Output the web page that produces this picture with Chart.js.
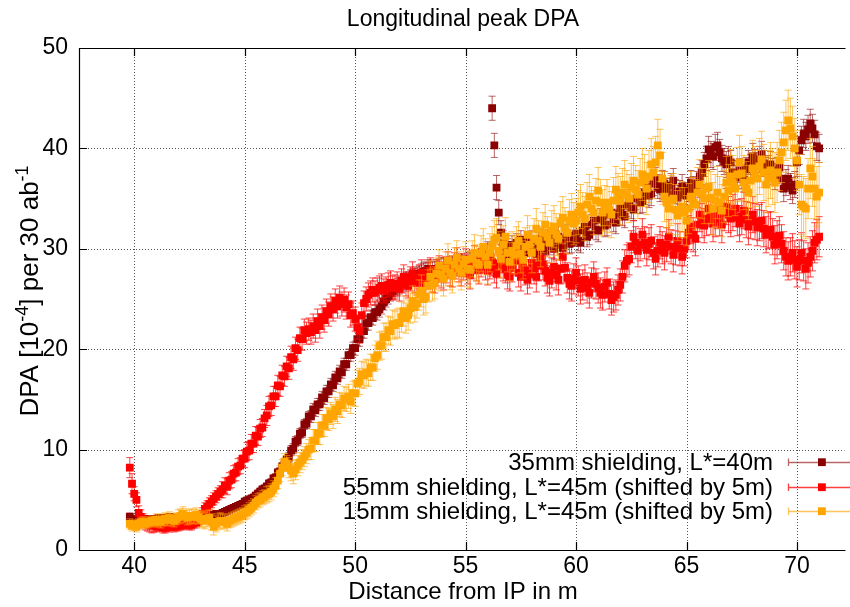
<!DOCTYPE html>
<html lang="en">
<head>
  <meta charset="UTF-8" />
  <title>Longitudinal peak DPA</title>
  <script src="https://cdn.jsdelivr.net/npm/chart.js@4"></script>
  <style>
    html, body { margin: 0; padding: 0; background: #fff; }
  </style>
</head>
<body>
  <canvas id="dpaChart" width="850" height="607"></canvas>

  <script>
    // distance from IP in m (shared by all three series)
    const distance = [
      39.8, 39.9,
      40.0, 40.1, 40.2, 40.3, 40.4, 40.5, 40.6, 40.7, 40.8, 40.9,
      41.0, 41.1, 41.2, 41.3, 41.4, 41.5, 41.6, 41.7, 41.8, 41.9,
      42.0, 42.1, 42.2, 42.3, 42.4, 42.5, 42.6, 42.7, 42.8, 42.9,
      43.0, 43.1, 43.2, 43.3, 43.4, 43.5, 43.6, 43.7, 43.8, 43.9,
      44.0, 44.1, 44.2, 44.3, 44.4, 44.5, 44.6, 44.7, 44.8, 44.9,
      45.0, 45.1, 45.2, 45.3, 45.4, 45.5, 45.6, 45.7, 45.8, 45.9,
      46.0, 46.1, 46.2, 46.3, 46.4, 46.5, 46.6, 46.7, 46.8, 46.9,
      47.0, 47.1, 47.2, 47.3, 47.4, 47.5, 47.6, 47.7, 47.8, 47.9,
      48.0, 48.1, 48.2, 48.3, 48.4, 48.5, 48.6, 48.7, 48.8, 48.9,
      49.0, 49.1, 49.2, 49.3, 49.4, 49.5, 49.6, 49.7, 49.8, 49.9,
      50.0, 50.1, 50.2, 50.3, 50.4, 50.5, 50.6, 50.7, 50.8, 50.9,
      51.0, 51.1, 51.2, 51.3, 51.4, 51.5, 51.6, 51.7, 51.8, 51.9,
      52.0, 52.1, 52.2, 52.3, 52.4, 52.5, 52.6, 52.7, 52.8, 52.9,
      53.0, 53.1, 53.2, 53.3, 53.4, 53.5, 53.6, 53.7, 53.8, 53.9,
      54.0, 54.1, 54.2, 54.3, 54.4, 54.5, 54.6, 54.7, 54.8, 54.9,
      55.0, 55.1, 55.2, 55.3, 55.4, 55.5, 55.6, 55.7, 55.8, 55.9,
      56.0, 56.1, 56.2, 56.3, 56.4, 56.5, 56.6, 56.7, 56.8, 56.9,
      57.0, 57.1, 57.2, 57.3, 57.4, 57.5, 57.6, 57.7, 57.8, 57.9,
      58.0, 58.1, 58.2, 58.3, 58.4, 58.5, 58.6, 58.7, 58.8, 58.9,
      59.0, 59.1, 59.2, 59.3, 59.4, 59.5, 59.6, 59.7, 59.8, 59.9,
      60.0, 60.1, 60.2, 60.3, 60.4, 60.5, 60.6, 60.7, 60.8, 60.9,
      61.0, 61.1, 61.2, 61.3, 61.4, 61.5, 61.6, 61.7, 61.8, 61.9,
      62.0, 62.1, 62.2, 62.3, 62.4, 62.5, 62.6, 62.7, 62.8, 62.9,
      63.0, 63.1, 63.2, 63.3, 63.4, 63.5, 63.6, 63.7, 63.8, 63.9,
      64.0, 64.1, 64.2, 64.3, 64.4, 64.5, 64.6, 64.7, 64.8, 64.9,
      65.0, 65.1, 65.2, 65.3, 65.4, 65.5, 65.6, 65.7, 65.8, 65.9,
      66.0, 66.1, 66.2, 66.3, 66.4, 66.5, 66.6, 66.7, 66.8, 66.9,
      67.0, 67.1, 67.2, 67.3, 67.4, 67.5, 67.6, 67.7, 67.8, 67.9,
      68.0, 68.1, 68.2, 68.3, 68.4, 68.5, 68.6, 68.7, 68.8, 68.9,
      69.0, 69.1, 69.2, 69.3, 69.4, 69.5, 69.6, 69.7, 69.8, 69.9,
      70.0, 70.1, 70.2, 70.3, 70.4, 70.5, 70.6, 70.7, 70.8, 70.9,
      71.0
    ];

    // 35mm shielding, L*=40m
    const dpa35 = [
      3.3, 3.0,
      2.9, 3.1, 2.8, 3.0, 2.9, 3.1, 3.0, 2.9, 3.1, 3.0,
      3.0, 3.2, 3.1, 3.0, 3.2, 3.1, 3.3, 3.1, 3.2, 3.1,
      3.2, 3.3, 3.1, 3.3, 3.2, 3.4, 3.2, 3.3, 3.4, 3.3,
      3.3, 3.4, 3.3, 3.5, 3.4, 3.4, 3.5, 3.6, 3.5, 3.6,
      3.7, 3.8, 3.9, 4.0, 4.1, 4.2, 4.3, 4.4, 4.5, 4.6,
      4.8, 4.9, 5.0, 5.1, 5.2, 5.4, 5.6, 5.8, 6.0, 6.1,
      6.3, 6.6, 6.7, 7.1, 7.2, 7.7, 7.8, 8.3, 8.5, 9.0,
      9.2, 9.9, 10.1, 10.8, 10.9, 11.6, 11.7, 12.5, 12.6, 13.3,
      13.3, 14.0, 13.9, 14.5, 14.5, 15.2, 15.1, 15.8, 15.8, 16.5,
      16.4, 17.2, 17.1, 17.8, 17.7, 18.5, 18.5, 19.4, 19.4, 20.1,
      20.1, 21.0, 21.0, 21.8, 21.8, 22.6, 22.6, 23.2, 23.1, 23.7,
      23.7, 24.0, 24.3, 24.7, 25.0, 25.3, 25.6, 25.8, 26.0, 26.2,
      26.3, 26.5, 26.6, 26.8, 26.9, 27.1, 27.2, 27.3, 27.4, 27.5,
      27.6, 27.7, 27.8, 28.0, 28.0, 27.8, 27.8, 28.0, 28.1, 28.2,
      28.2, 28.1, 28.0, 28.3, 28.4, 28.2, 28.3, 28.5, 28.6, 28.4,
      28.5, 28.7, 28.8, 28.6, 29.0, 28.9, 28.7, 29.1, 29.2, 29.0,
      29.5, 29.3, 44.0, 40.3, 36.1, 33.6, 31.6, 30.6, 30.2, 29.8,
      29.2, 30.4, 29.8, 30.6, 29.4, 30.9, 30.0, 29.6, 30.7, 29.8,
      30.8, 29.9, 29.5, 30.6, 31.0, 30.2, 29.8, 30.9, 30.4, 31.1,
      30.0, 30.8, 31.2, 30.4, 30.1, 31.0, 31.4, 30.5, 30.6, 31.3,
      31.5, 30.8, 30.6, 31.8, 32.2, 31.2, 31.4, 32.4, 32.8, 31.9,
      31.8, 32.9, 33.2, 32.3, 32.4, 33.4, 33.6, 32.8, 32.6, 33.5,
      34.0, 33.4, 33.2, 34.3, 34.8, 34.1, 33.9, 35.0, 35.4, 34.6,
      34.8, 35.6, 36.2, 35.3, 35.5, 36.5, 36.9, 36.2, 35.9, 36.6,
      36.5, 35.8, 35.4, 36.3, 36.8, 35.7, 35.1, 35.6, 36.2, 35.4,
      35.3, 35.9, 36.6, 36.0, 35.9, 36.5, 37.2, 37.6, 38.4, 39.0,
      39.9, 39.4, 39.2, 40.1, 40.3, 39.6, 39.0, 38.7, 38.4, 38.9,
      38.6, 37.6, 37.1, 37.5, 37.8, 37.2, 36.9, 37.9, 38.6, 38.2,
      39.2, 38.6, 38.3, 38.9, 39.4, 38.5, 37.8, 38.0, 38.4, 37.7,
      37.2, 37.8, 38.1, 37.0, 36.0, 36.6, 37.0, 36.2, 35.8, 36.4,
      38.6, 39.8, 40.8, 41.5, 41.2, 41.9, 42.5, 42.0, 41.4, 40.2,
      40.0
    ];

    // 55mm shielding, L*=45m (shifted by 5m)
    const dpa55 = [
      8.2, 6.6,
      5.6, 5.0, 3.7, 3.3, 2.9, 2.7, 2.6, 2.5, 2.4, 2.5,
      2.3, 2.4, 2.5, 2.2, 2.2, 2.4, 2.3, 2.5, 2.3, 2.4,
      2.4, 2.5, 2.5, 2.6, 2.6, 2.5, 2.5, 2.7, 2.7, 2.9,
      3.2, 3.6, 4.1, 4.3, 4.6, 4.8, 5.1, 5.3, 5.6, 5.8,
      6.0, 6.4, 6.3, 6.9, 7.0, 7.6, 7.7, 8.3, 8.4, 9.1,
      9.1, 9.8, 9.9, 10.6, 10.6, 11.4, 11.3, 12.1, 12.2, 13.1,
      13.4, 14.3, 14.4, 15.3, 15.3, 16.4, 16.3, 17.4, 17.3, 18.3,
      18.1, 19.2, 19.0, 20.1, 19.9, 21.1, 21.0, 21.9, 21.6, 22.0,
      21.7, 22.3, 21.9, 22.8, 22.3, 23.2, 22.9, 23.8, 23.5, 24.3,
      24.0, 24.8, 24.3, 25.1, 24.5, 24.9, 24.2, 24.5, 23.4, 23.6,
      23.0, 22.2, 21.8, 23.4, 24.6, 25.0, 25.4, 25.6, 25.9, 25.6,
      25.9, 26.1, 26.3, 25.8, 26.0, 26.4, 26.6, 26.1, 26.2, 26.5,
      26.0, 26.8, 27.2, 26.5, 26.3, 27.0, 27.5, 26.8, 26.6, 27.2,
      27.6, 26.8, 26.4, 27.3, 27.8, 27.0, 26.9, 27.6, 28.0, 27.4,
      27.2, 27.9, 28.4, 27.6, 27.5, 28.3, 28.8, 28.0, 27.6, 28.2,
      28.6, 27.9, 27.4, 28.4, 28.9, 28.2, 27.9, 28.6, 29.0, 28.3,
      27.8, 28.4, 28.7, 28.0, 27.5, 28.5, 29.0, 28.2, 28.0, 27.4,
      27.2, 28.1, 28.9, 28.8, 27.6, 27.2, 28.4, 27.8, 26.9, 27.5,
      28.6, 28.0, 27.2, 28.3, 29.0, 28.4, 27.8, 27.1, 26.8, 27.6,
      28.2, 27.4, 26.9, 28.0, 29.2, 28.1, 27.1, 26.5, 26.3, 27.0,
      27.6, 26.8, 26.0, 26.4, 26.9, 26.1, 25.6, 26.6, 27.2, 26.5,
      26.1, 25.6, 25.4, 26.2, 26.6, 25.5, 24.9, 25.2, 25.4, 25.9,
      26.4, 27.2, 28.3, 28.8, 29.0, 30.2, 31.2, 30.6, 29.8, 30.4,
      31.4, 30.6, 29.9, 30.5, 30.8, 29.6, 29.0, 29.8, 30.6, 30.1,
      29.6, 30.4, 31.2, 30.2, 29.4, 30.1, 30.8, 30.0, 29.2, 30.0,
      30.8, 31.6, 32.2, 31.4, 31.0, 32.4, 33.4, 32.8, 32.3, 33.0,
      34.0, 33.2, 32.5, 33.0, 33.8, 33.1, 32.4, 33.6, 34.2, 33.4,
      33.0, 33.6, 34.0, 33.1, 32.5, 33.2, 33.8, 32.9, 32.2, 32.8,
      33.4, 32.7, 32.1, 32.6, 32.8, 32.0, 31.4, 31.8, 31.9, 31.2,
      30.4, 30.9, 31.3, 30.5, 29.8, 29.2, 28.8, 29.2, 29.6, 28.9,
      28.2, 28.9, 29.6, 28.8, 28.0, 28.6, 29.2, 29.8, 30.6, 30.9,
      31.2
    ];

    // 15mm shielding, L*=45m (shifted by 5m)
    const dpa15 = [
      2.6, 2.4,
      2.5, 2.3, 2.6, 2.7, 2.8, 2.6, 2.7, 2.8, 2.9, 2.8,
      3.0, 2.9, 2.8, 3.0, 3.1, 3.0, 3.2, 3.0, 2.9, 3.1,
      3.3, 3.4, 3.6, 3.4, 3.2, 3.3, 3.4, 3.3, 3.5, 3.3,
      3.1, 3.0, 2.9, 3.1, 3.2, 2.8, 2.3, 2.6, 2.8, 2.9,
      2.9, 2.8, 2.6, 2.9, 3.0, 3.1, 3.2, 3.3, 3.4, 3.5,
      3.7, 3.8, 4.0, 4.2, 4.4, 4.7, 4.9, 5.0, 5.2, 5.3,
      5.5, 5.6, 5.8, 6.1, 6.4, 6.9, 7.6, 8.2, 8.8, 8.6,
      8.2, 7.9, 7.6, 8.0, 8.4, 8.7, 9.0, 9.3, 9.6, 10.0,
      10.1, 10.9, 10.9, 11.6, 11.6, 12.4, 12.4, 13.1, 13.0, 13.6,
      13.3, 14.0, 13.8, 14.5, 14.4, 15.1, 15.0, 15.3, 14.8, 15.6,
      15.6, 16.6, 16.8, 17.5, 17.4, 17.7, 17.6, 18.2, 18.2, 19.1,
      19.4, 20.3, 20.4, 21.2, 21.2, 21.9, 21.8, 22.5, 22.4, 22.6,
      22.6, 23.2, 23.8, 23.1, 23.4, 24.1, 24.8, 24.2, 24.6, 25.4,
      25.8, 25.0, 25.2, 26.3, 27.2, 26.4, 26.6, 27.5, 28.3, 27.4,
      27.0, 28.0, 28.8, 27.6, 27.3, 28.4, 29.1, 28.0, 27.6, 28.5,
      28.9, 28.0, 27.9, 29.0, 29.6, 28.6, 28.4, 29.5, 30.2, 29.2,
      28.4, 29.6, 30.3, 30.9, 31.1, 29.8, 29.0, 30.4, 31.2, 29.6,
      28.7, 29.8, 29.4, 30.3, 30.8, 29.5, 28.9, 30.2, 31.4, 30.4,
      29.6, 31.0, 32.0, 30.8, 30.2, 31.6, 32.4, 31.2, 30.6, 31.8,
      32.2, 31.4, 31.0, 32.6, 33.1, 32.0, 31.6, 32.8, 33.4, 32.5,
      32.8, 33.6, 34.2, 33.4, 33.0, 34.4, 35.2, 34.0, 33.6, 34.8,
      35.8, 34.6, 33.6, 34.0, 34.6, 33.9, 33.4, 34.8, 35.9, 35.2,
      34.8, 35.6, 36.4, 35.4, 35.0, 36.1, 36.8, 35.9, 35.4, 36.6,
      37.4, 36.8, 36.0, 37.2, 38.4, 37.6, 38.6, 40.3, 39.3, 37.0,
      35.2, 34.6, 34.0, 34.8, 35.0, 33.9, 33.3, 33.6, 34.2, 33.6,
      32.8, 34.0, 35.2, 34.6, 34.4, 35.6, 36.4, 35.5, 35.0, 36.0,
      36.2, 35.1, 34.0, 34.8, 35.6, 34.6, 33.8, 35.2, 36.6, 35.8,
      37.2, 36.6, 36.0, 37.4, 38.6, 37.5, 36.6, 36.0, 35.6, 36.8,
      38.0, 37.4, 37.0, 38.2, 38.9, 37.6, 36.4, 37.0, 37.8, 37.2,
      36.6, 37.6, 38.8, 39.6, 40.6, 41.8, 42.8, 42.0, 41.2, 40.0,
      38.8, 36.4, 34.4, 34.2, 34.0, 36.0, 38.0, 37.2, 36.0, 35.2,
      35.6
    ];

    // half error bars, one value per metre (39 m ... 71 m)
    const err35 = [0.4, 0.3, 0.3, 0.3, 0.3, 0.3, 0.4, 0.4, 0.5, 0.6, 0.6, 0.7, 0.8, 0.8, 0.9, 0.9, 0.9,
                   1.2, 0.9, 1.0, 1.0, 1.0, 1.1, 1.1, 1.2, 1.2, 1.2, 1.3, 1.2, 1.3, 1.3, 1.4, 1.4];
    const err55 = [1.0, 0.7, 0.5, 0.5, 0.6, 0.8, 0.9, 1.0, 1.1, 1.2, 1.2, 1.2, 1.2, 1.2, 1.3, 1.3, 1.4,
                   1.4, 1.4, 1.5, 1.5, 1.5, 1.5, 1.6, 1.6, 1.7, 1.7, 1.8, 1.8, 1.8, 1.9, 2.0, 2.0];
    const err15 = [0.5, 0.5, 0.6, 0.7, 0.8, 0.7, 0.7, 0.8, 1.0, 1.1, 1.2, 1.3, 1.4, 1.5, 1.6, 1.7, 1.8,
                   1.9, 1.9, 2.0, 2.1, 2.2, 2.3, 2.4, 2.6, 2.5, 2.5, 2.6, 2.7, 2.8, 3.0, 3.0, 3.0];

    const seriesLabels = [
      "35mm shielding, L*=40m",
      "55mm shielding, L*=45m (shifted by 5m)",
      "15mm shielding, L*=45m (shifted by 5m)"
    ];
    const xTickValues = [40, 45, 50, 55, 60, 65, 70];
    const yTickValues = [0, 10, 20, 30, 40, 50];

    const seriesValues = [dpa35, dpa55, dpa15];
    const seriesErrors = [err35, err55, err15];
    const markColors = ["#8b0000", "#ff0000", "#ffa500"];
    const barColors = ["rgba(139,0,0,0.6)", "rgba(255,0,0,0.75)", "rgba(255,165,0,0.65)"];

    const FONT = "'Liberation Sans', Arial, Helvetica, sans-serif";
    const CAP = 3.5;

    function points(vals) {
      return distance.map((d, i) => ({ x: d, y: vals[i] }));
    }

    const gnuplotLook = {
      id: "gnuplotLook",
      beforeDatasetsDraw(chart) {
        const { ctx, chartArea: a, scales: { x, y } } = chart;
        ctx.save();
        ctx.strokeStyle = "#555";
        ctx.lineWidth = 1;
        ctx.setLineDash([1, 2]);
        ctx.beginPath();
        xTickValues.forEach(v => {
          const px = Math.round(x.getPixelForValue(v)) + 0.5;
          ctx.moveTo(px, a.top); ctx.lineTo(px, a.bottom);
        });
        yTickValues.slice(1, -1).forEach(v => {
          const py = Math.round(y.getPixelForValue(v)) + 0.5;
          ctx.moveTo(a.left, py); ctx.lineTo(a.right, py);
        });
        ctx.stroke();
        ctx.restore();
      },
      beforeDatasetDraw(chart, args) {
        const i = args.index;
        const vals = seriesValues[i], errs = seriesErrors[i];
        const { ctx, chartArea: a, scales: { x, y } } = chart;
        ctx.save();
        ctx.beginPath();
        ctx.rect(a.left, a.top, a.right - a.left, a.bottom - a.top);
        ctx.clip();
        ctx.strokeStyle = barColors[i];
        ctx.lineWidth = 1;
        distance.forEach((d, k) => {
          const e = errs[Math.floor(d + 1e-9) - 39];
          const px = x.getPixelForValue(d);
          const top = y.getPixelForValue(vals[k] + e);
          const bot = y.getPixelForValue(vals[k] - e);
          ctx.beginPath();
          ctx.moveTo(px, top); ctx.lineTo(px, bot);
          ctx.moveTo(px - CAP, top); ctx.lineTo(px + CAP, top);
          ctx.moveTo(px - CAP, bot); ctx.lineTo(px + CAP, bot);
          ctx.stroke();
        });
        ctx.restore();
      },
      afterDatasetsDraw(chart) {
        const { ctx, chartArea: a, scales: { x, y } } = chart;
        ctx.save();
        ctx.strokeStyle = "#000";
        ctx.lineWidth = 1.2;
        ctx.beginPath();
        ctx.moveTo(a.right + 1, a.top + 0.5);
        ctx.lineTo(a.left + 0.5, a.top + 0.5);
        ctx.lineTo(a.left + 0.5, a.bottom + 0.5);
        ctx.lineTo(a.right + 1, a.bottom + 0.5);
        // inward ticks, mirrored on top
        xTickValues.forEach(v => {
          const px = Math.round(x.getPixelForValue(v)) + 0.5;
          ctx.moveTo(px, a.bottom); ctx.lineTo(px, a.bottom - 8);
          ctx.moveTo(px, a.top); ctx.lineTo(px, a.top + 8);
        });
        yTickValues.forEach(v => {
          const py = Math.round(y.getPixelForValue(v)) + 0.5;
          ctx.moveTo(a.left, py); ctx.lineTo(a.left + 8, py);
        });
        ctx.stroke();
        ctx.restore();
      },
      afterDraw(chart) {
        const { ctx } = chart;
        ctx.save();
        ctx.fillStyle = "#000";

        // title
        ctx.font = "23px " + FONT;
        ctx.textAlign = "center";
        ctx.textBaseline = "alphabetic";
        ctx.fillText("Longitudinal peak DPA", 463, 26);

        // x axis title
        ctx.font = "24px " + FONT;
        ctx.fillText("Distance from IP in m", 463, 599);

        // y axis title with superscripts
        const parts = [
          { t: "DPA [10", s: 26, dy: 0 },
          { t: "-4", s: 18, dy: -10 },
          { t: "] per 30 ab", s: 26, dy: 0 },
          { t: "-1", s: 18, dy: -10 }
        ];
        let total = 0;
        parts.forEach(p => { ctx.font = p.s + "px " + FONT; p.w = ctx.measureText(p.t).width; total += p.w; });
        ctx.translate(38, 291);
        ctx.rotate(-Math.PI / 2);
        ctx.textAlign = "left";
        let cx = -total / 2;
        parts.forEach(p => {
          ctx.font = p.s + "px " + FONT;
          ctx.fillText(p.t, cx, p.dy);
          cx += p.w;
        });
        ctx.setTransform(1, 0, 0, 1, 0, 0);

        // key, gnuplot style: text right aligned, errorbar sample on the right
        const rows = [462, 487, 511];
        ctx.font = "24px " + FONT;
        ctx.textAlign = "right";
        rows.forEach((ry, i) => {
          ctx.fillStyle = "#000";
          ctx.fillText(seriesLabels[i], 773, ry + 8);
          ctx.strokeStyle = barColors[i];
          ctx.lineWidth = 1.3;
          ctx.beginPath();
          ctx.moveTo(788, ry + 0.5); ctx.lineTo(856, ry + 0.5);
          ctx.moveTo(788.5, ry - 3.5); ctx.lineTo(788.5, ry + 4);
          ctx.stroke();
          ctx.fillStyle = markColors[i];
          ctx.fillRect(818, ry - 3.7, 7.8, 7.8);
        });
        ctx.restore();
      }
    };

    const tickFont = { family: FONT, size: 23 };

    new Chart(document.getElementById("dpaChart"), {
      type: "scatter",
      data: {
        datasets: seriesValues.map((vals, i) => ({
          label: seriesLabels[i],
          data: points(vals),
          pointStyle: "rect",
          pointRadius: 5.5,
          pointHoverRadius: 5.5,
          pointBorderWidth: 0,
          pointBackgroundColor: markColors[i],
          backgroundColor: markColors[i],
          order: 2 - i
        }))
      },
      options: {
        responsive: false,
        animation: false,
        events: [],
        layout: { padding: { top: 48, right: 0, left: 0, bottom: 0 } },
        plugins: {
          legend: { display: false },
          title: { display: false },
          tooltip: { enabled: false }
        },
        scales: {
          x: {
            type: "linear",
            min: 37.5,
            max: 72.15,
            grid: { display: false, drawTicks: false },
            border: { display: false },
            afterBuildTicks: s => { s.ticks = xTickValues.map(v => ({ value: v })); },
            afterFit: s => { s.height = 57; },
            ticks: { font: tickFont, color: "#000", padding: 3, maxRotation: 0, autoSkip: false }
          },
          y: {
            min: 0,
            max: 50,
            grid: { display: false, drawTicks: false },
            border: { display: false },
            afterBuildTicks: s => { s.ticks = yTickValues.map(v => ({ value: v })); },
            afterFit: s => { s.width = 79; },
            ticks: { font: tickFont, color: "#000", padding: 11 }
          }
        }
      },
      plugins: [gnuplotLook]
    });
  </script>
</body>
</html>
